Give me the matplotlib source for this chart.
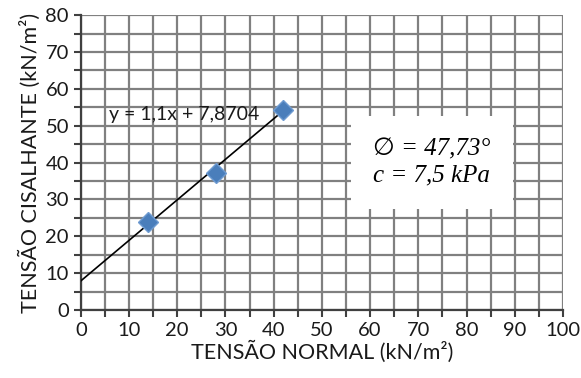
import matplotlib
matplotlib.use("Agg")
import matplotlib.pyplot as plt
from matplotlib.ticker import MultipleLocator
import numpy as np

normal = [14, 28, 42]
shear = [23.8, 37.1, 54.2]
slope = 1.1
intercept = 7.8704
eq_label = "y = 1,1x + 7,8704"
box_lines = ["\u2205 = 47,73°", "c = 7,5 kPa"]
xlabel = "TENSÃO NORMAL (kN/m²)"
ylabel = "TENSÃO CISALHANTE (kN/m²)"

plt.rcParams['font.family'] = ['Lato', 'DejaVu Sans']

fig = plt.figure(figsize=(5.81, 3.78), dpi=100)
ax = fig.add_axes([0.139, 0.180, 0.830, 0.780])

ax.set_xlim(0, 100)
ax.set_ylim(0, 80)
ax.xaxis.set_major_locator(MultipleLocator(10))
ax.xaxis.set_minor_locator(MultipleLocator(5))
ax.yaxis.set_major_locator(MultipleLocator(10))
ax.yaxis.set_minor_locator(MultipleLocator(5))
ax.grid(True, which='both', color='#808080', linewidth=1.6)
ax.set_axisbelow(True)

for s in ['top', 'right']:
    ax.spines[s].set_visible(False)
for s in ['left', 'bottom']:
    ax.spines[s].set_color('#404040')
    ax.spines[s].set_linewidth(1.6)
ax.tick_params(which='both', direction='out', length=5, width=1.5, color='#404040',
               labelsize=14.5, labelcolor='#1a1a1a')

xs = np.array([0, max(normal)])
ax.plot(xs, slope * xs + intercept, color='black', linewidth=1.2, zorder=3)
ax.plot(normal, shear, linestyle='none', marker='D', markersize=10,
        markerfacecolor='#4a7ebb', markeredgecolor='#6f9bd1', markeredgewidth=1, zorder=4)

ax.text(21.4, 53.0, eq_label, fontsize=14, color='#1a1a1a', ha='center', va='center', zorder=5)

ax.text(72.8, 40, "\n".join(box_lines), fontsize=18,
        family=['Liberation Serif', 'DejaVu Sans', 'DejaVu Serif'], style='italic',
        ha='center', va='center', linespacing=1.25, zorder=6,
        bbox=dict(boxstyle='square,pad=0.9', facecolor='white', edgecolor='none'))

ax.set_xlabel(xlabel, fontsize=15.5, color='#1a1a1a', labelpad=1)
ax.set_ylabel(ylabel, fontsize=15.5, color='#1a1a1a', labelpad=3)

fig.savefig("out.png", dpi=100)
